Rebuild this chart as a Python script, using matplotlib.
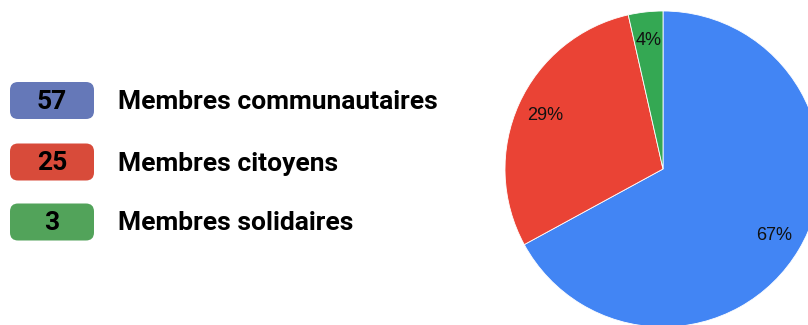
import matplotlib.pyplot as plt
from matplotlib.patches import FancyBboxPatch

# Données
categories = ["Membres communautaires", "Membres citoyens", "Membres solidaires"]
valeurs = [57, 25, 3]
couleurs_pie = ["#4285F4", "#EA4335", "#34A853"]
couleurs_badge = ["#6578B8", "#D84B3A", "#52A35A"]

W, H = 808, 325
fig = plt.figure(figsize=(W / 100, H / 100), dpi=100)
fig.patch.set_facecolor("white")

# Camembert (centre ~ (663,169) px, rayon ~158 px)
cx, cy, r = 663, 169, 158
ax = fig.add_axes([(cx - r) / W, (H - cy - r) / H, 2 * r / W, 2 * r / H])
ax.pie(valeurs, colors=couleurs_pie, startangle=90, counterclock=False,
       autopct="%.0f%%", pctdistance=0.82,
       wedgeprops=dict(edgecolor="white", linewidth=0.6),
       textprops=dict(family="Liberation Sans", fontsize=13, color="#111111"))
ax.set_xlim(-1, 1)
ax.set_ylim(-1, 1)
ax.set_aspect("equal")
ax.axis("off")

# Légende à gauche, en coordonnées pixels
lg = fig.add_axes([0, 0, 1, 1])
lg.set_xlim(0, W)
lg.set_ylim(H, 0)
lg.axis("off")

y_centres = [100.5, 162, 222]
for i, (cat, val) in enumerate(zip(categories, valeurs)):
    yc = y_centres[i]
    box = FancyBboxPatch((10 + 8, yc - 18.5 + 8), 84 - 16, 37 - 16,
                         boxstyle="round,pad=8", facecolor=couleurs_badge[i],
                         edgecolor="none")
    lg.add_patch(box)
    lg.text(52, yc + 1.5, str(val), ha="center", va="center", fontsize=19,
            fontweight="bold", family="Roboto", color="black")
    lg.text(118, yc + 1.5, cat, ha="left", va="center", fontsize=19,
            fontweight="bold", family="Roboto", color="black")

fig.savefig("out.png", dpi=100)
